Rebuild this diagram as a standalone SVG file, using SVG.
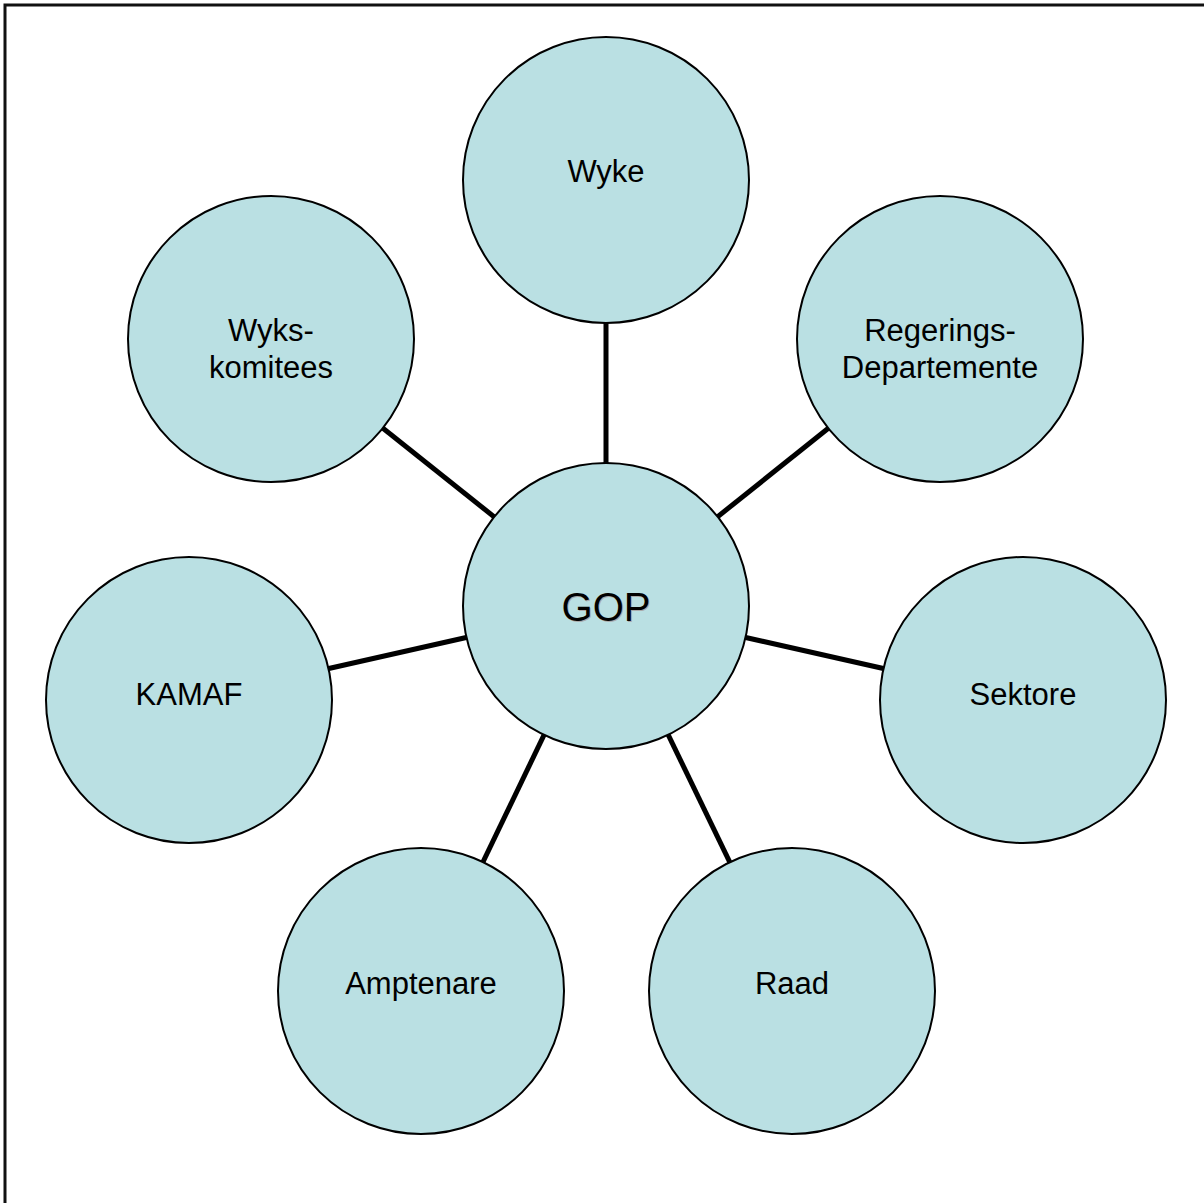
<svg xmlns="http://www.w3.org/2000/svg" width="1204" height="1203" viewBox="0 0 1204 1203">
<style>
.node{fill:#BAE0E3;stroke:#000;stroke-width:2}
.lbl{font-family:"Liberation Sans",Arial,sans-serif;font-size:31px;fill:#000;text-anchor:middle}
.big{font-size:40px}
.shadow{fill:#aaa}
.conn line{stroke:#000;stroke-width:5}
</style>
<rect x="0" y="0" width="1204" height="1203" fill="#fff"/>
<rect x="5" y="5" width="1220" height="1220" fill="none" stroke="#111" stroke-width="3"/>
<g id="connectors" class="conn">
<line x1="606" y1="606" x2="606" y2="180"/>
<line x1="606" y1="606" x2="940" y2="339"/>
<line x1="606" y1="606" x2="1023" y2="700"/>
<line x1="606" y1="606" x2="792" y2="991"/>
<line x1="606" y1="606" x2="421" y2="991"/>
<line x1="606" y1="606" x2="189" y2="700"/>
<line x1="606" y1="606" x2="271" y2="339"/>
</g>
<g id="gop"><circle class="node" cx="606" cy="606" r="143"/><text class="lbl big shadow" x="607" y="622">GOP</text><text class="lbl big" x="606" y="621">GOP</text></g>
<g id="wyke"><circle class="node" cx="606" cy="180" r="143"/><text class="lbl" x="606" y="182">Wyke</text></g>
<g id="regerings"><circle class="node" cx="940" cy="339" r="143"/><text class="lbl" x="940" y="341">Regerings-</text><text class="lbl" x="940" y="378">Departemente</text></g>
<g id="sektore"><circle class="node" cx="1023" cy="700" r="143"/><text class="lbl" x="1023" y="705">Sektore</text></g>
<g id="raad"><circle class="node" cx="792" cy="991" r="143"/><text class="lbl" x="792" y="994">Raad</text></g>
<g id="amptenare"><circle class="node" cx="421" cy="991" r="143"/><text class="lbl" x="421" y="994">Amptenare</text></g>
<g id="kamaf"><circle class="node" cx="189" cy="700" r="143"/><text class="lbl" x="189" y="705">KAMAF</text></g>
<g id="wykskomitees"><circle class="node" cx="271" cy="339" r="143"/><text class="lbl" x="271" y="341">Wyks-</text><text class="lbl" x="271" y="378">komitees</text></g>
</svg>
